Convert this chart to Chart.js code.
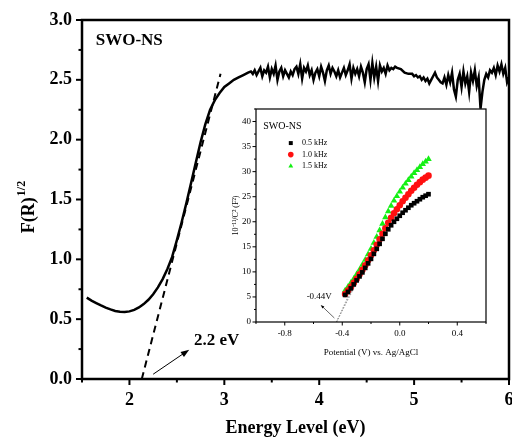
<!DOCTYPE html>
<html>
<head>
<meta charset="utf-8">
<script src="https://cdn.jsdelivr.net/npm/chart.js@4.4.1/dist/chart.umd.min.js"></script>
<style>
  html, body { margin: 0; padding: 0; background: #fff; }
  #wrap { position: relative; width: 512px; height: 441px; }
  #mainChart { position: absolute; left: 0; top: 0; }
  #insetChart { position: absolute; left: 224px; top: 102px; }
</style>
</head>
<body>
<div id="wrap">
  <canvas id="mainChart" width="512" height="441"></canvas>
  <canvas id="insetChart" width="266" height="262"></canvas>
</div>
<script>
// ---- Main spectrum: F(R)^1/2 vs energy ----
const energy = [
  1.55, 1.60, 1.65, 1.70, 1.75, 1.80, 1.85, 1.90, 1.95, 2.00, 2.05, 2.10, 2.15, 2.20, 2.25, 2.30,
  2.35, 2.40, 2.45, 2.50, 2.55, 2.60, 2.65, 2.70, 2.75, 2.80, 2.85, 2.90, 2.95, 3.00, 3.05, 3.10,
  3.15, 3.20, 3.25,
  3.28, 3.30, 3.32, 3.34, 3.36, 3.38, 3.40, 3.42, 3.44, 3.46, 3.48, 3.50, 3.52, 3.54, 3.56, 3.58,
  3.60, 3.62, 3.64, 3.66, 3.68, 3.70, 3.72, 3.74, 3.76, 3.78, 3.80, 3.82, 3.84, 3.86, 3.88, 3.90,
  3.92, 3.94, 3.96, 3.98, 4.00, 4.02, 4.04, 4.06, 4.08, 4.10, 4.12, 4.14, 4.16, 4.18, 4.20, 4.22,
  4.24, 4.26, 4.28, 4.30, 4.32, 4.34, 4.36, 4.38, 4.40, 4.42, 4.44, 4.46, 4.48, 4.50, 4.52, 4.54,
  4.56, 4.58, 4.60, 4.62, 4.64, 4.66, 4.68, 4.70, 4.72, 4.74, 4.76, 4.78, 4.80, 4.82,
  4.86, 4.90, 4.94, 4.98, 5.00, 5.02, 5.04, 5.06, 5.08, 5.10, 5.12, 5.14, 5.16, 5.18, 5.20, 5.22,
  5.24, 5.26, 5.28, 5.30, 5.32, 5.34, 5.36, 5.38, 5.40, 5.42, 5.44, 5.46, 5.48, 5.50, 5.52, 5.54,
  5.56, 5.58, 5.60, 5.62, 5.64, 5.66, 5.68, 5.70, 5.72, 5.74, 5.76, 5.78, 5.80, 5.82, 5.84, 5.86,
  5.88, 5.90, 5.92, 5.94, 5.96, 5.98, 6.00
];
const fr = [
  0.68, 0.655, 0.635, 0.615, 0.597, 0.582, 0.569, 0.562, 0.560, 0.565, 0.578, 0.598, 0.626, 0.662, 0.708, 0.765,
  0.835, 0.92, 1.02, 1.16, 1.31, 1.47, 1.64, 1.81, 1.98, 2.13, 2.25, 2.33, 2.39, 2.44, 2.47, 2.50,
  2.52, 2.54, 2.56,
  2.57, 2.55, 2.58, 2.54, 2.57, 2.60, 2.53, 2.58, 2.56, 2.61, 2.52, 2.59, 2.55, 2.62, 2.50, 2.57,
  2.60, 2.53, 2.58, 2.55, 2.52, 2.57, 2.54, 2.59, 2.61, 2.55, 2.63, 2.51, 2.60, 2.57, 2.62, 2.54,
  2.58, 2.50, 2.56, 2.59, 2.53, 2.61, 2.56, 2.49, 2.58, 2.62, 2.55, 2.60, 2.57, 2.53, 2.58, 2.52,
  2.56, 2.60, 2.54, 2.58, 2.63, 2.51, 2.60, 2.55, 2.59, 2.53, 2.61, 2.56, 2.48, 2.59, 2.63, 2.50,
  2.64, 2.52, 2.61, 2.49, 2.62, 2.57, 2.60, 2.55, 2.62, 2.58, 2.60, 2.59, 2.61, 2.60,
  2.59, 2.56, 2.55, 2.55, 2.53, 2.54, 2.52, 2.53, 2.50, 2.52, 2.49, 2.51, 2.47, 2.50, 2.53, 2.56,
  2.52, 2.50, 2.48, 2.47, 2.52, 2.46, 2.54, 2.48, 2.56, 2.42, 2.36, 2.50, 2.55, 2.44, 2.57, 2.47,
  2.53, 2.40, 2.56, 2.49, 2.58, 2.45, 2.52, 2.26, 2.40, 2.50, 2.55, 2.52, 2.58, 2.56, 2.60, 2.54,
  2.62, 2.57, 2.63, 2.55, 2.60, 2.48, 2.52
];
// Tauc extrapolation line (dashed)
const tangentE = [2.13, 2.96];
const tangentF = [0, 2.55];

// ---- Inset: Mott-Schottky ----
const potential = [
  -0.38, -0.36, -0.34, -0.32, -0.30, -0.28, -0.26, -0.24, -0.22, -0.20, -0.18, -0.16, -0.14, -0.12, -0.10,
  -0.08, -0.06, -0.04, -0.02, 0.00, 0.02, 0.04, 0.06, 0.08, 0.10, 0.12, 0.14, 0.16, 0.18, 0.20
];
const khz05 = [
  5.4, 6.0, 6.7, 7.5, 8.3, 9.1, 9.9, 10.8, 11.7, 12.6, 13.6, 14.6, 15.6, 16.6, 17.6,
  18.5, 19.3, 20.0, 20.6, 21.2, 21.8, 22.3, 22.8, 23.3, 23.7, 24.1, 24.5, 24.9, 25.2, 25.5
];
const khz10 = [
  5.6, 6.3, 7.0, 7.8, 8.6, 9.5, 10.4, 11.3, 12.3, 13.3, 14.3, 15.4, 16.5, 17.6, 18.7,
  19.8, 20.8, 21.7, 22.5, 23.3, 24.1, 24.8, 25.5, 26.2, 26.8, 27.4, 27.9, 28.4, 28.8, 29.2
];
const khz15 = [
  6.3, 7.0, 7.8, 8.6, 9.5, 10.4, 11.4, 12.4, 13.5, 14.6, 15.8, 17.0, 18.3, 19.6, 20.9,
  22.1, 23.2, 24.2, 25.1, 26.0, 26.8, 27.6, 28.3, 29.0, 29.7, 30.3, 30.9, 31.5, 32.0, 32.5
];
const seriesNames = ['0.5 kHz', '1.0 kHz', '1.5 kHz'];
// flat-band extrapolation lines
const extrapV = [-0.44, -0.30];
const extrap05 = [0, 7.8];
const extrap10 = [0, 8.3];
const extrap15 = [0, 8.9];

const SERIF = '"Liberation Serif", "Times New Roman", serif';

// ---- helpers ----
function pts(xs, ys) { return xs.map((v, i) => ({ x: v, y: ys[i] })); }

function arrow(ctx, x1, y1, x2, y2, head, width) {
  const a = Math.atan2(y2 - y1, x2 - x1);
  ctx.beginPath();
  ctx.lineWidth = width;
  ctx.moveTo(x1, y1);
  ctx.lineTo(x2 - Math.cos(a) * head * 0.8, y2 - Math.sin(a) * head * 0.8);
  ctx.stroke();
  ctx.beginPath();
  ctx.moveTo(x2, y2);
  ctx.lineTo(x2 - head * Math.cos(a - 0.35), y2 - head * Math.sin(a - 0.35));
  ctx.lineTo(x2 - head * Math.cos(a + 0.35), y2 - head * Math.sin(a + 0.35));
  ctx.closePath();
  ctx.fill();
}

// frame + outward ticks (major = labelled, minor = unlabelled)
const frameTicks = {
  id: 'frameTicks',
  beforeDraw(chart, args, o) {
    if (!o.fill) return;
    const a = chart.chartArea, ctx = chart.ctx;
    ctx.save();
    ctx.fillStyle = o.fill;
    ctx.fillRect(a.left, a.top, a.width, a.height);
    ctx.restore();
  },
  afterDraw(chart, args, o) {
    const { ctx, chartArea: a, scales: { x, y } } = chart;
    ctx.save();
    ctx.strokeStyle = '#000';
    ctx.lineWidth = o.tickWidth;
    x.ticks.forEach(t => {
      const px = x.getPixelForValue(t.value);
      const len = t.label !== '' ? o.major : o.minor;
      ctx.beginPath(); ctx.moveTo(px, a.bottom); ctx.lineTo(px, a.bottom + len); ctx.stroke();
    });
    y.ticks.forEach(t => {
      const py = y.getPixelForValue(t.value);
      const len = t.label !== '' ? o.major : o.minor;
      ctx.beginPath(); ctx.moveTo(a.left, py); ctx.lineTo(a.left - len, py); ctx.stroke();
    });
    ctx.lineWidth = o.frameWidth;
    ctx.strokeRect(a.left, a.top, a.width, a.height);
    ctx.restore();
  }
};

// ---- main chart annotations ----
const mainNotes = {
  id: 'mainNotes',
  afterDraw(chart) {
    const { ctx, scales: { x, y } } = chart;
    ctx.save();
    ctx.fillStyle = '#000';
    ctx.strokeStyle = '#000';
    // sample label
    ctx.font = 'bold 17px ' + SERIF;
    ctx.textBaseline = 'middle';
    ctx.fillText('SWO-NS', x.getPixelForValue(1.645), y.getPixelForValue(2.83));
    // band gap label + arrow
    ctx.fillText('2.2 eV', x.getPixelForValue(2.68), y.getPixelForValue(0.32));
    arrow(ctx, x.getPixelForValue(2.25), y.getPixelForValue(0.04),
               x.getPixelForValue(2.63), y.getPixelForValue(0.245), 9, 1);
    // y axis title with superscript
    ctx.translate(27, 207);
    ctx.rotate(-Math.PI / 2);
    ctx.font = 'bold 18px ' + SERIF;
    const w1 = ctx.measureText('F(R)').width;
    ctx.font = 'bold 12px ' + SERIF;
    const w2 = ctx.measureText('1/2').width;
    const x0 = -(w1 + w2 + 1) / 2;
    ctx.font = 'bold 18px ' + SERIF;
    ctx.fillText('F(R)', x0, 2);
    ctx.font = 'bold 12px ' + SERIF;
    ctx.fillText('1/2', x0 + w1 + 1, -5);
    ctx.restore();
  }
};

new Chart(document.getElementById('mainChart'), {
  type: 'line',
  data: {
    datasets: [
      { data: pts(energy, fr), borderColor: '#000', borderWidth: 2.5, pointRadius: 0, tension: 0 },
      { data: pts(tangentE, tangentF), borderColor: '#000', borderWidth: 2, borderDash: [7, 5], pointRadius: 0 }
    ]
  },
  options: {
    responsive: false,
    animation: false,
    layout: { padding: { top: 20, right: 3, left: 0, bottom: 0 } },
    plugins: {
      legend: { display: false },
      tooltip: { enabled: false },
      frameTicks: { major: 6, minor: 3.5, tickWidth: 2, frameWidth: 2.5 }
    },
    scales: {
      x: {
        type: 'linear', min: 1.5, max: 6,
        grid: { display: false, drawTicks: false }, border: { display: false },
        ticks: {
          stepSize: 0.5, autoSkip: false, maxRotation: 0, padding: 11, color: '#000',
          font: { family: SERIF, size: 18, weight: 'bold' },
          callback: v => Number.isInteger(v) ? String(v) : ''
        },
        title: { display: true, text: 'Energy Level (eV)', color: '#000', padding: { top: 0, bottom: 2 },
                 font: { family: SERIF, size: 18, weight: 'bold' } },
        afterFit: s => { s.height = 62; s.paddingLeft = 0; s.paddingRight = 0; }
      },
      y: {
        type: 'linear', min: 0, max: 3,
        grid: { display: false, drawTicks: false }, border: { display: false },
        ticks: {
          stepSize: 0.25, autoSkip: false, padding: 10, color: '#000',
          font: { family: SERIF, size: 18, weight: 'bold' },
          callback: v => (Math.round(v * 100) % 50 === 0) ? v.toFixed(1) : ''
        },
        afterFit: s => { s.width = 82; s.paddingTop = 0; s.paddingBottom = 0; }
      }
    }
  },
  plugins: [frameTicks, mainNotes]
});

// ---- inset annotations + legend ----
const insetNotes = {
  id: 'insetNotes',
  afterDraw(chart) {
    const { ctx, scales: { x, y } } = chart;
    ctx.save();
    ctx.fillStyle = '#000';
    ctx.strokeStyle = '#000';
    ctx.textBaseline = 'middle';
    ctx.font = '10px ' + SERIF;
    ctx.fillText('SWO-NS', x.getPixelForValue(-0.95), y.getPixelForValue(39.1));
    // legend
    const rows = [35.7, 33.4, 31.1];
    chart.data.datasets.slice(0, 3).forEach((ds, i) => {
      const py = y.getPixelForValue(rows[i]);
      const px = x.getPixelForValue(-0.758);
      ctx.fillStyle = ds.backgroundColor;
      Chart.helpers.drawPoint(ctx, { pointStyle: ds.pointStyle, radius: 2.8, borderWidth: 0, rotation: 0 }, px, py);
      ctx.fillStyle = '#000';
      ctx.font = '8px ' + SERIF;
      ctx.fillText(seriesNames[i], x.getPixelForValue(-0.68), py);
    });
    // flat band potential label + arrow
    ctx.font = '9px ' + SERIF;
    ctx.textAlign = 'center';
    ctx.fillText('-0.44V', x.getPixelForValue(-0.56), y.getPixelForValue(5.0));
    arrow(ctx, x.getPixelForValue(-0.455), y.getPixelForValue(0.8),
               x.getPixelForValue(-0.55), y.getPixelForValue(3.4), 4, 0.6);
    ctx.restore();
  }
};

const extrapStyle = { borderColor: '#888', borderWidth: 0.7, borderDash: [1.5, 1.5], pointRadius: 0, showLine: true };

new Chart(document.getElementById('insetChart'), {
  type: 'line',
  data: {
    datasets: [
      { label: seriesNames[0], data: pts(potential, khz05), showLine: false, pointStyle: 'rect',
        backgroundColor: '#000', borderColor: '#000', borderWidth: 0, pointRadius: 3.3 },
      { label: seriesNames[1], data: pts(potential, khz10), showLine: false, pointStyle: 'circle',
        backgroundColor: '#ff1010', borderColor: '#ff1010', borderWidth: 0, pointRadius: 3.3 },
      { label: seriesNames[2], data: pts(potential, khz15), showLine: false, pointStyle: 'triangle',
        backgroundColor: '#14f014', borderColor: '#14f014', borderWidth: 0, pointRadius: 3.8 },
      Object.assign({ data: pts(extrapV, extrap05) }, extrapStyle),
      Object.assign({ data: pts(extrapV, extrap10) }, extrapStyle),
      Object.assign({ data: pts(extrapV, extrap15) }, extrapStyle)
    ]
  },
  options: {
    responsive: false,
    animation: false,
    layout: { padding: { top: 7, right: 3, left: 0, bottom: 0 } },
    plugins: {
      legend: { display: false },
      tooltip: { enabled: false },
      frameTicks: { major: 3.5, minor: 2, tickWidth: 1, frameWidth: 1.2, fill: '#fff' }
    },
    scales: {
      x: {
        type: 'linear', min: -1.0, max: 0.6,
        grid: { display: false, drawTicks: false }, border: { display: false },
        ticks: {
          stepSize: 0.2, autoSkip: false, maxRotation: 0, padding: 6, color: '#000',
          font: { family: SERIF, size: 9 },
          callback: v => (Math.round(v * 10) % 4 === 0) ? (Math.round(v * 10) / 10).toFixed(1) : ''
        },
        title: { display: true, text: 'Potential (V) vs. Ag/AgCl', color: '#000', padding: { top: 0, bottom: 6 },
                 font: { family: SERIF, size: 9 } },
        afterFit: s => { s.height = 42; s.paddingLeft = 0; s.paddingRight = 0; }
      },
      y: {
        type: 'linear', min: 0, max: 42.5,
        grid: { display: false, drawTicks: false }, border: { display: false },
        ticks: {
          stepSize: 2.5, autoSkip: false, padding: 5, color: '#000',
          font: { family: SERIF, size: 9 },
          callback: v => (Math.round(v * 10) % 50 === 0) ? String(Math.round(v)) : ''
        },
        title: { display: true, text: '10\u207B\u00B9\u00B9/C\u00B2 (F\u00B2)', color: '#000', padding: { top: 7, bottom: 0 },
                 font: { family: SERIF, size: 8 } },
        afterFit: s => { s.width = 32; s.paddingTop = 0; s.paddingBottom = 0; }
      }
    }
  },
  plugins: [frameTicks, insetNotes]
});
</script>
</body>
</html>
